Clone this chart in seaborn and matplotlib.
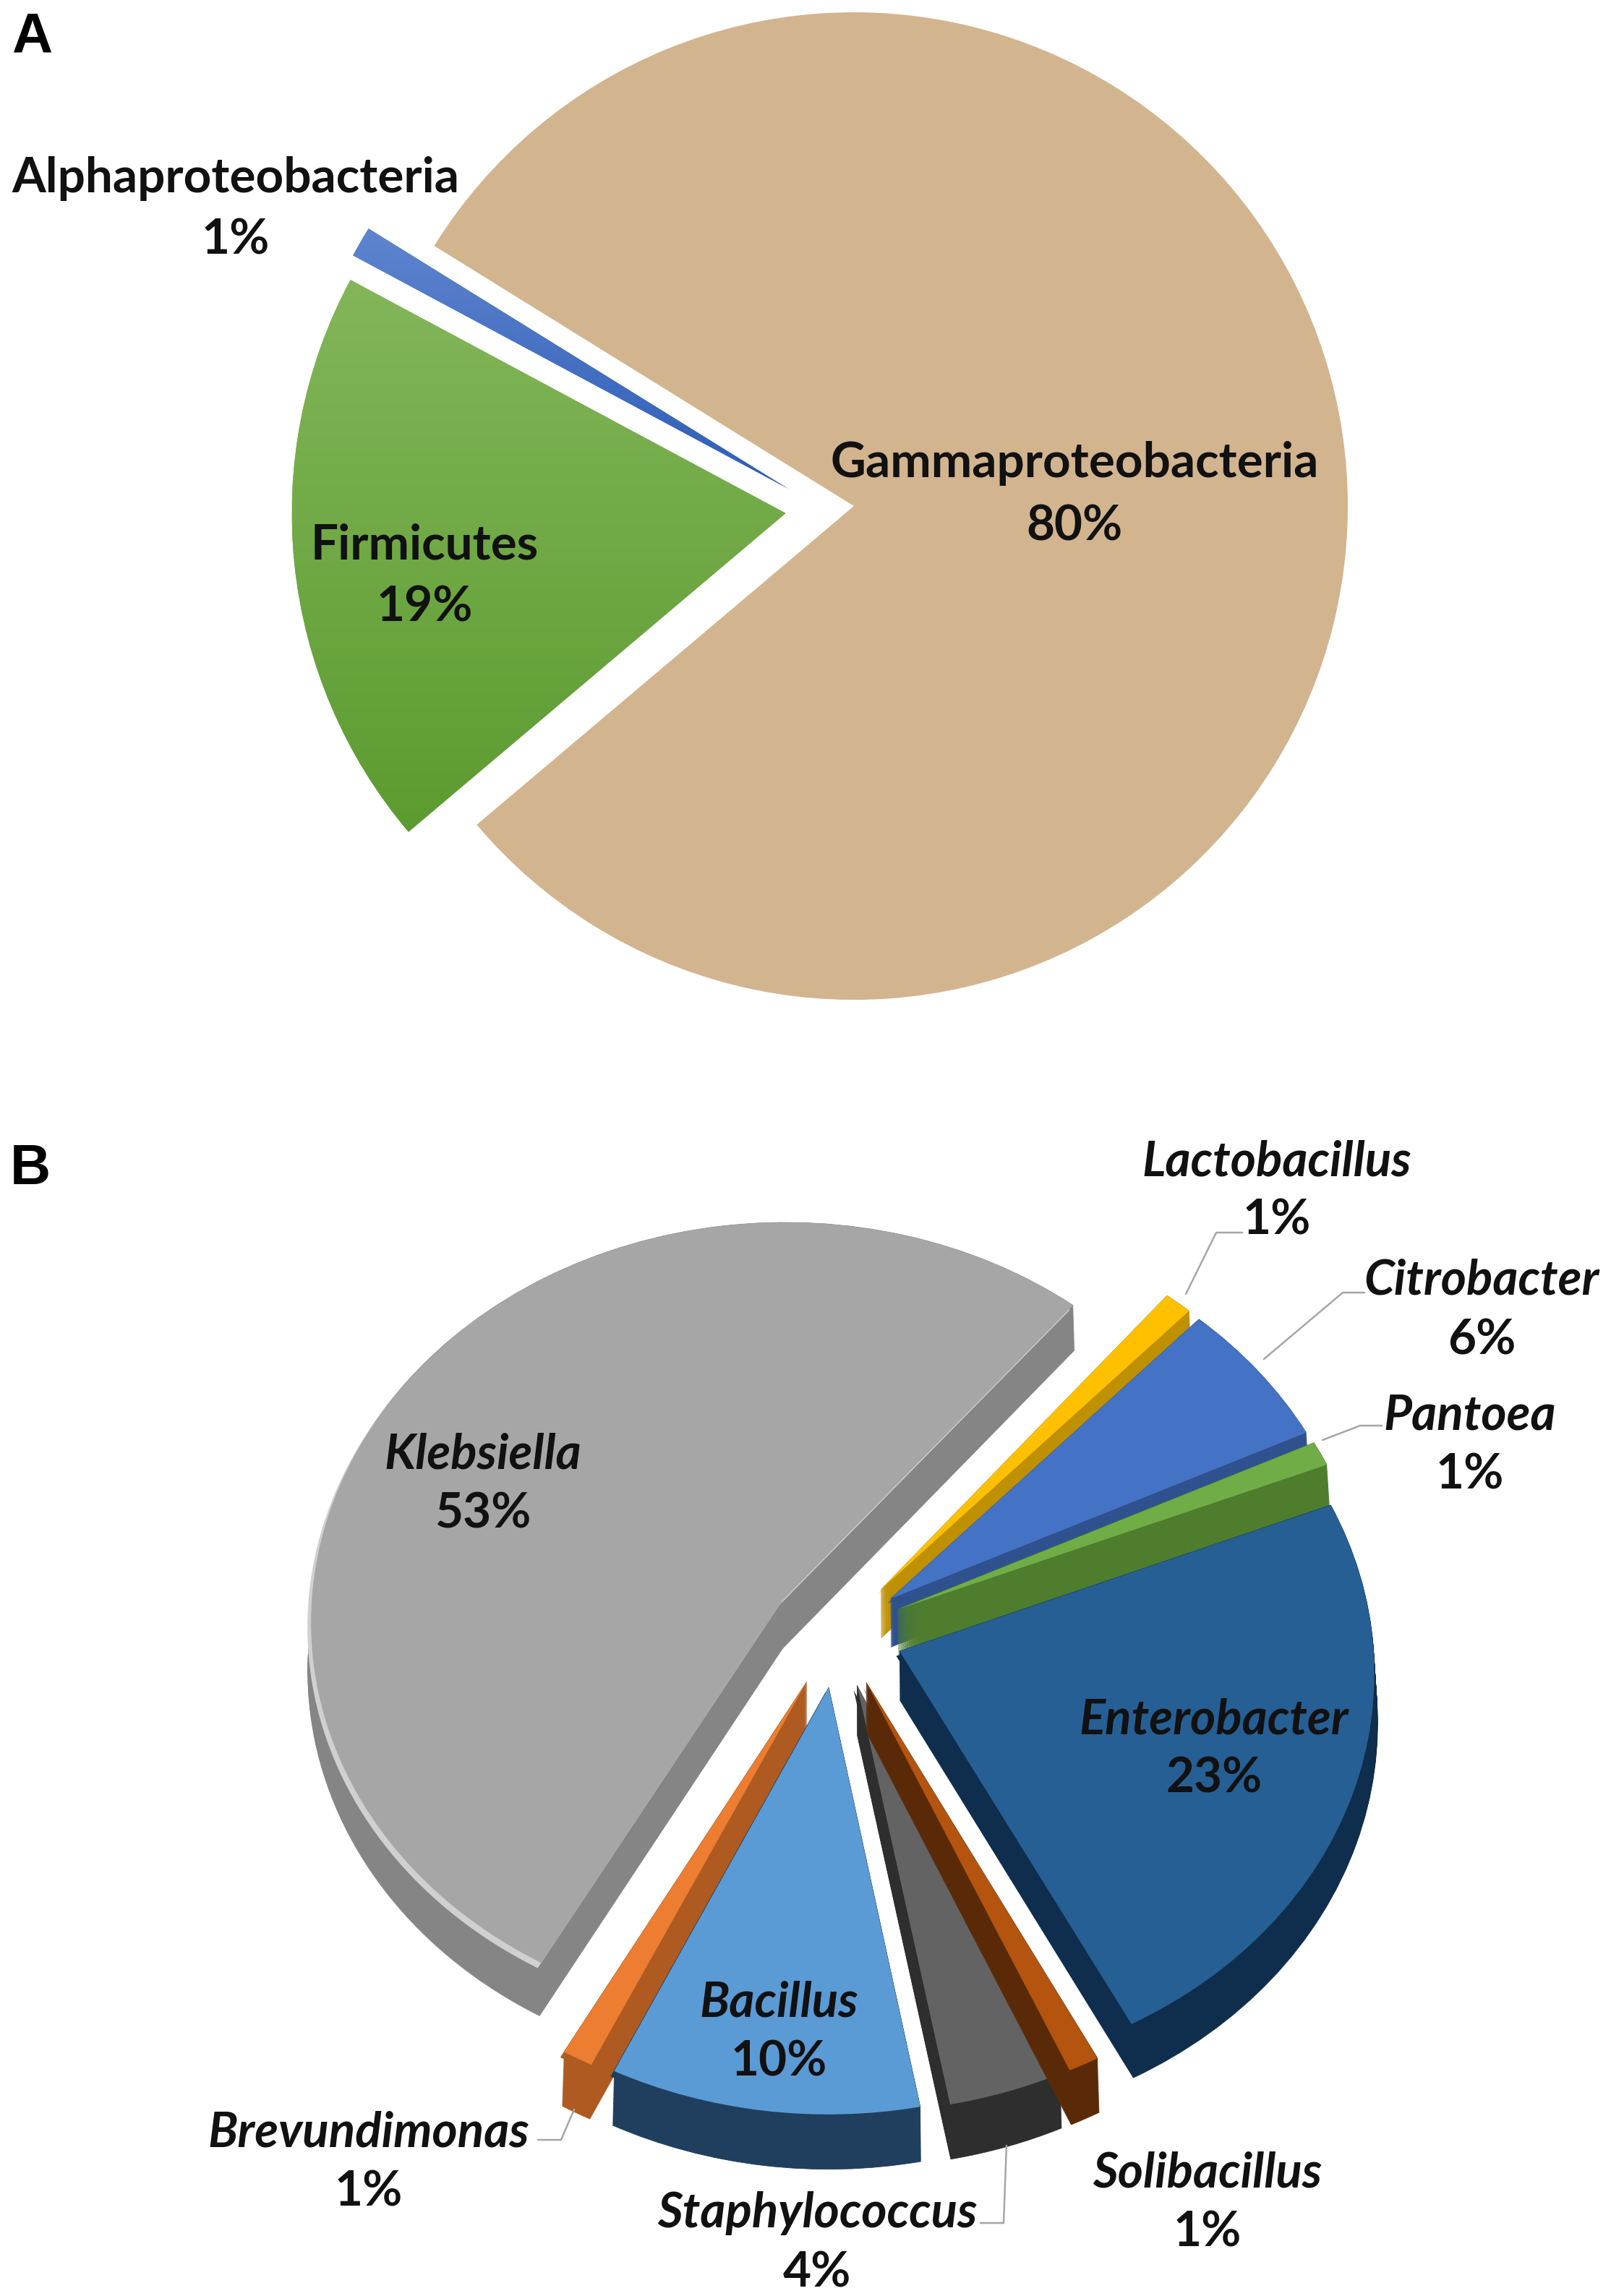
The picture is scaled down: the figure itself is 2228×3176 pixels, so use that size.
import numpy as np
import seaborn as sns
import matplotlib.pyplot as plt
from matplotlib.lines import Line2D
from matplotlib.transforms import Transform

W, H = 2228, 3176

# Panel A
a_names = ["Gammaproteobacteria", "Alphaproteobacteria", "Firmicutes"]
a_values = [80, 1, 19]
a_colors = ["#d2b48f", "#4a74c6", "#70ab45"]
a_explode = [0, 0.139, 0.139]
a_text_pos = [(1486, 641, 729), (326, 247, 332), (587, 754, 840)]

# Panel B, counterclockwise starting from Enterobacter
b_names = ["Enterobacter", "Pantoea", "Citrobacter", "Lactobacillus", "Klebsiella",
           "Brevundimonas", "Bacillus", "Staphylococcus", "Solibacillus"]
b_labels = [23, 1, 6, 1, 53, 1, 10, 4, 1]
# slice sizes as measured on the picture, the labels are these rounded
b_values = [23.4, 1, 6, 1, 52.9, 1, 10, 3.7, 1]
b_top = ["#265f94", "#70ad47", "#4472c4", "#ffc000", "#a6a6a6",
         "#ed7d31", "#5b9bd5", "#636363", "#b4540f"]
b_side = ["#0f2d4d", "#4e7d2e", "#2f528f", "#bf9000", "#858585",
          "#ae5a21", "#203f5e", "#2e2e2e", "#5a2a08"]
b_rim = ["#0f2d4d", "#4e7d2e", "#2f528f", "#bf9000", "#d0d0d0",
         "#ae5a21", "#203f5e", "#2e2e2e", "#5a2a08"]
b_paint_rank = [4, 3, 2, 1, 0, 5, 6, 7, 8]
b_text_pos = [(1679, 2379, 2461), (2033, 1958, 2040), (2049, 1771, 1854), (1766, 1607, 1689),
              (668, 2012, 2094), (510, 2950, 3032), (1077, 2770, 2852), (1130, 3061, 3144),
              (1670, 3006, 3088)]

leaders = [
    ([1640, 1682, 1718], [1790, 1705, 1705]),
    ([1748, 1857, 1887], [1880, 1788, 1788]),
    ([1829, 1881, 1911], [1992, 1972, 1972]),
    ([794, 776, 744], [2918, 2960, 2960]),
    ([1392, 1388, 1356], [2968, 3075, 3075]),
]

sns.set_theme(style="white")
plt.rcParams["font.family"] = ["Lato", "DejaVu Sans"]

fig = plt.figure(figsize=(W / 100, H / 100), dpi=100, facecolor="white")


class Tilt(Transform):
    # back of the pie gets smaller, front gets bigger
    input_dims = output_dims = 2
    is_separable = False

    def __init__(self, p):
        super().__init__()
        self.p = p

    def transform_non_affine(self, values):
        values = np.asarray(values)
        return values / (1 + self.p * values[:, [1]])


def pixel_axes(cx, cy, rx, ry):
    ax = fig.add_axes([0, 0, 1, 1], facecolor="none")
    ax.set_axis_off()
    return ax, (-cx / rx, (W - cx) / rx), (-(H - cy) / ry, cy / ry)


def gradient(ax, wedge, top, bottom):
    ramp = np.linspace(0, 1, 256)[:, None]
    c1, c2 = np.array(sns.color_palette([top, bottom]))
    img = (c1 * (1 - ramp) + c2 * ramp)[:, None, :]
    bb = wedge.get_path().transformed(wedge.get_patch_transform()).get_extents()
    im = ax.imshow(img, extent=(bb.x0, bb.x1, bb.y0, bb.y1), origin="upper", aspect="auto", zorder=3)
    im.set_clip_path(wedge)


# panel A
ax_a, xl, yl = pixel_axes(1181, 700, 683, 683)
wedges_a, _ = ax_a.pie(a_values, explode=a_explode, colors=sns.color_palette(a_colors),
                       startangle=220.2, radius=1, wedgeprops={"linewidth": 0})
# the thin slice sits lower than its bisector would put it
wedges_a[1].set_center((-0.133, 0.035))
gradient(ax_a, wedges_a[2], "#83b659", "#5c9b30")
gradient(ax_a, wedges_a[1], "#5f85cf", "#2d5db6")
ax_a.set_aspect("auto")
ax_a.set_xlim(xl)
ax_a.set_ylim(yl)

# panel B, pie squashed by the axes limits, walls built from stacked pies
ax_b, xl, yl = pixel_axes(1158, 2257, 654, 553)
b_explode = [0.14] * len(b_values)
depth = 67 / 553
start = -62.5
tilt = Tilt(0.05) + ax_b.transData
for level in np.linspace(1, 0, 34):
    wedges_b, _ = ax_b.pie(b_values, explode=b_explode, colors=b_side, startangle=start,
                           radius=1, wedgeprops={"linewidth": 0.6})
    for w, rank in zip(wedges_b, b_paint_rank):
        cx, cy = w.center
        w.set_center((cx, cy - depth * level))
        w.set_edgecolor(w.get_facecolor())
        w.set_zorder(rank * 10 + 1)
        w.set_transform(tilt)

wedges_rim, _ = ax_b.pie(b_values, explode=b_explode, colors=b_rim, startangle=start,
                         radius=1, wedgeprops={"linewidth": 0})
wedges_top, _ = ax_b.pie(b_values, explode=b_explode, colors=b_top, startangle=start,
                         radius=1, wedgeprops={"linewidth": 0})
for w_rim, w, rank in zip(wedges_rim, wedges_top, b_paint_rank):
    cx, cy = w_rim.center
    # moved along the lower straight edge so only the arc shows the light rim
    w_rim.set_center((cx - 0.007, cy - 0.012))
    w_rim.set_zorder(rank * 10 + 2)
    w_rim.set_transform(tilt)
    w.set_zorder(rank * 10 + 3)
    w.set_transform(tilt)
ax_b.set_aspect("auto")
ax_b.set_xlim(xl)
ax_b.set_ylim(yl)

for xs, ys in leaders:
    fig.add_artist(Line2D([x / W for x in xs], [1 - y / H for y in ys], color="#a6a6a6", lw=1.8))


def fig_label(x, y, s, **kw):
    t = fig.text(x / W, 1 - y / H, s, ha="center", va="center", color="#111111",
                 fontsize=48.5, fontweight="bold", **kw)
    t.set_zorder(100)
    return t


for name, val, (x, y1, y2) in zip(a_names, a_values, a_text_pos):
    fig_label(x, y1, name)
    fig_label(x, y2, f"{val}%")

for name, val, (x, y1, y2) in zip(b_names, b_labels, b_text_pos):
    fig_label(x, y1, name, fontstyle="italic")
    fig_label(x, y2, f"{val}%")

for letter, x, y in [("A", 44, 52), ("B", 42, 1618)]:
    fig.text(x / W, 1 - y / H, letter, ha="center", va="center", color="black",
             fontsize=56, fontweight="bold", family="Liberation Sans")

fig.savefig("out.png", dpi=100, facecolor="white")
